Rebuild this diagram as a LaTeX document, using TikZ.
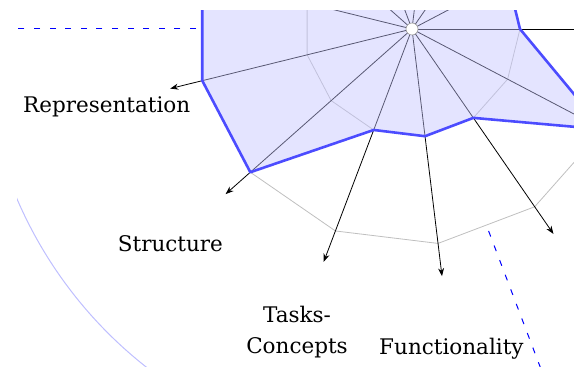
\documentclass[tikz,border=0pt]{standalone}
\usepackage{fontspec}
\setmainfont{DejaVu Serif}
\usetikzlibrary{arrows.meta}
\begin{document}
\begin{tikzpicture}[x=1pt,y=1pt,
  ring/.style={draw=black!25, line width=0.8pt},
  spoke/.style={draw=black, line width=0.8pt, -{Stealth[length=8pt,width=6pt]}},
  datafill/.style={fill=blue!23, fill opacity=0.45},
  databorder/.style={draw=blue!70, line width=2.6pt, line join=round},
  sep/.style={draw=blue, line width=1pt, dash pattern=on 6pt off 9.6pt},
  arcline/.style={draw=blue!25, line width=1pt},
  hub/.style={circle, draw=black!40, fill=white, minimum size=12pt, inner sep=0pt, line width=0.6pt},
  lab/.style={font=\fontsize{21.5}{31}\selectfont, inner sep=0pt, align=center}]
\useasboundingbox (0,0) rectangle (574,367);
\clip (17,0) rectangle (574,356);
\coordinate (c) at (412,338);
\foreach \k/\v in {0/108,1/108,2/216,3/108,4/216,5/108,6/216,7/216,8/216,9/108,10/108,11/108,12/216} {
  \coordinate (v\k) at ([shift={({\k*360/13}:\v)}]c);
  \coordinate (g\k) at ([shift={({\k*360/13}:108)}]c);
  \coordinate (h\k) at ([shift={({\k*360/13}:216)}]c);
  \coordinate (a\k) at ([shift={({\k*360/13}:249)}]c);
}
% grid rings
\draw[ring] (g0) \foreach \k in {1,...,12}{ -- (g\k)} -- cycle;
\draw[ring] (h0) \foreach \k in {1,...,12}{ -- (h\k)} -- cycle;
% spokes
\foreach \k in {0,...,12} \draw[spoke] (c) -- (a\k);
% data polygon
\fill[datafill] (v0) \foreach \k in {1,...,12}{ -- (v\k)} -- cycle;
\draw[databorder] (v0) \foreach \k in {1,...,12}{ -- (v\k)} -- cycle;
% hub
\node[hub] (o) at (c) {};
% sector separators and arc
\coordinate (s1a) at ([shift={(180:216)}]c);
\coordinate (s1b) at ([shift={(180:460)}]c);
\coordinate (s2a) at ([shift={(290.77:216)}]c);
\coordinate (s2b) at ([shift={(290.77:460)}]c);
\draw[sep] (s1a) -- (s1b);
\draw[sep] (s2a) -- (s2b);
\coordinate (arcstart) at ([shift={(180:430)}]c);
\draw[arcline] (arcstart) arc[start angle=180, end angle=290.77, radius=430];
% labels
\node[lab, anchor=base] (l7) at (106.7,254.3) {Representation};
\node[lab, anchor=base] (l8) at (170.4,115.3) {Structure};
\node[lab] (l9) at (297,35.1) {Tasks-\\Concepts};
\node[lab, anchor=base] (l10) at (451.4,12) {Functionality};
\end{tikzpicture}
\end{document}
